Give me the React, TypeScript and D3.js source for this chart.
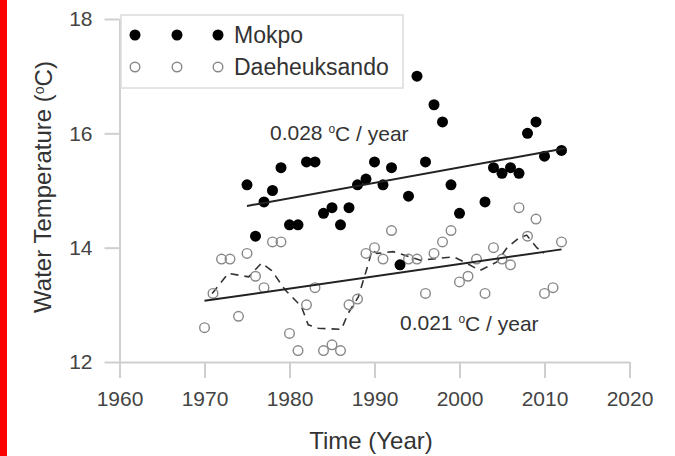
import { useEffect, useRef } from "react";
import * as d3 from "d3";

// Mokpo (filled) annual means
const mokpoYears = [
  1975, 1976, 1977, 1978, 1979, 1980, 1981, 1982, 1983, 1984, 1985, 1986, 1987, 1988, 1989, 1990,
  1991, 1992, 1993, 1994, 1995, 1996, 1997, 1998, 1999, 2000, 2003, 2004, 2005, 2006, 2007, 2008,
  2009, 2010, 2012,
];
const mokpoTemps = [
  15.1, 14.2, 14.8, 15.0, 15.4, 14.4, 14.4, 15.5, 15.5, 14.6, 14.7, 14.4, 14.7, 15.1, 15.2, 15.5,
  15.1, 15.4, 13.7, 14.9, 17.0, 15.5, 16.5, 16.2, 15.1, 14.6, 14.8, 15.4, 15.3, 15.4, 15.3, 16.0,
  16.2, 15.6, 15.7,
];

// Daeheuksando (open) annual means
const daeYears = [
  1970, 1971, 1972, 1973, 1974, 1975, 1976, 1977, 1978, 1979, 1980, 1981, 1982, 1983, 1984, 1985,
  1986, 1987, 1988, 1989, 1990, 1991, 1992, 1994, 1995, 1996, 1997, 1998, 1999, 2000, 2001, 2002,
  2003, 2004, 2005, 2006, 2007, 2008, 2009, 2010, 2011, 2012,
];
const daeTemps = [
  12.6, 13.2, 13.8, 13.8, 12.8, 13.9, 13.5, 13.3, 14.1, 14.1, 12.5, 12.2, 13.0, 13.3, 12.2, 12.3,
  12.2, 13.0, 13.1, 13.9, 14.0, 13.8, 14.3, 13.8, 13.8, 13.2, 13.9, 14.1, 14.3, 13.4, 13.5, 13.8,
  13.2, 14.0, 13.8, 13.7, 14.7, 14.2, 14.5, 13.2, 13.3, 14.1,
];

// smoothed Daeheuksando curve (dashed)
const smoothYears = [
  1970.9, 1972.8, 1975.2, 1976.7, 1977.9, 1979.5, 1981.4, 1982.2, 1983.4, 1986.1, 1986.9, 1988.1,
  1989.3, 1989.7, 1990.3, 1992.2, 1995.4, 1999.3, 2000.8, 2002.4, 2004.4, 2005.6, 2006.9, 2007.9,
  2009.1, 2009.9,
];
const smoothTemps = [
  13.2, 13.55, 13.49, 13.73, 13.6, 13.26, 12.97, 12.65, 12.59, 12.57, 12.85, 13.14, 13.73, 13.96,
  13.9, 13.93, 13.78, 13.84, 13.73, 13.6, 13.75, 14.0, 14.16, 14.22, 14.0, 13.9,
];

// linear trend end points
const mokpoTrend: [number, number][] = [
  [1975, 14.73],
  [2012.5, 15.74],
];
const daeTrend: [number, number][] = [
  [1970, 13.07],
  [2012, 13.97],
];

const xTicks = [1960, 1970, 1980, 1990, 2000, 2010, 2020];
const yTicks = [12, 14, 16, 18];
const seriesNames = ["Mokpo", "Daeheuksando"];

const W = 675;
const H = 456;
const FONT = "'Liberation Sans', Arial, Helvetica, sans-serif";

export default function App() {
  const gx = useRef<SVGGElement | null>(null);
  const gy = useRef<SVGGElement | null>(null);

  const x = d3.scaleLinear().domain([1960, 2020]).range([119.5, 629.5]);
  const y = d3.scaleLinear().domain([12, 18]).range([362, 19]);

  useEffect(() => {
    if (gx.current) {
      const g = d3.select(gx.current);
      g.call(d3.axisBottom(x).tickValues(xTicks).tickFormat(d3.format("d")).tickSize(16).tickSizeOuter(0).tickPadding(13));
      g.select(".domain").attr("stroke", "#cfcfcf").attr("stroke-width", 2);
      g.selectAll(".tick line").attr("stroke", "#cfcfcf").attr("stroke-width", 2);
      g.selectAll(".tick text").attr("fill", "#444").attr("font-size", 21).attr("font-family", FONT);
    }
    if (gy.current) {
      const g = d3.select(gy.current);
      g.call(d3.axisLeft(y).tickValues(yTicks).tickFormat(d3.format("d")).tickSize(15).tickSizeOuter(0).tickPadding(12));
      g.select(".domain").attr("stroke", "#cfcfcf").attr("stroke-width", 2);
      g.selectAll(".tick line").attr("stroke", "#cfcfcf").attr("stroke-width", 2);
      g.selectAll(".tick text").attr("fill", "#444").attr("font-size", 21).attr("font-family", FONT);
    }
  }, [x, y]);

  const line = d3
    .line<[number, number]>()
    .x((d) => x(d[0]))
    .y((d) => y(d[1]));

  const smooth = smoothYears.map((yr, i) => [yr, smoothTemps[i]] as [number, number]);

  const legendX = [135, 177, 218];

  return (
    <svg
      width={W}
      height={H}
      style={{ position: "absolute", left: 0, top: 0, background: "#fff" }}
      fontFamily={FONT}
    >
      <rect x={0} y={0} width={W} height={H} fill="#fff" />
      <rect x={0} y={0} width={7} height={H} fill="#ff0000" />

      <g ref={gx} transform={`translate(0,${y(12)})`} />
      <g ref={gy} transform={`translate(${x(1960)},0)`} />

      {/* legend */}
      <rect x={121} y={15} width={282} height={73} fill="#fff" stroke="#dcdcdc" strokeWidth={1.5} />
      {legendX.map((lx) => (
        <circle key={`lm${lx}`} cx={lx} cy={35} r={5.5} fill="#000" />
      ))}
      {legendX.map((lx) => (
        <circle key={`ld${lx}`} cx={lx} cy={67} r={4.8} fill="#fff" stroke="#888" strokeWidth={1.4} />
      ))}
      <text x={234} y={35} dy="0.35em" fontSize={23} fill="#333">
        {seriesNames[0]}
      </text>
      <text x={234} y={67} dy="0.35em" fontSize={23} fill="#333">
        {seriesNames[1]}
      </text>

      {/* dashed smooth */}
      <path d={line(smooth) ?? ""} fill="none" stroke="#333" strokeWidth={1.6} strokeDasharray="8,6" />

      {/* Daeheuksando points */}
      {daeYears.map((yr, i) => (
        <circle key={`d${yr}`} cx={x(yr)} cy={y(daeTemps[i])} r={4.8} fill="none" stroke="#888" strokeWidth={1.4} />
      ))}

      {/* Mokpo points */}
      {mokpoYears.map((yr, i) => (
        <circle key={`m${yr}`} cx={x(yr)} cy={y(mokpoTemps[i])} r={5.5} fill="#000" />
      ))}

      {/* trend lines */}
      <path d={line(mokpoTrend) ?? ""} fill="none" stroke="#222" strokeWidth={2} />
      <path d={line(daeTrend) ?? ""} fill="none" stroke="#222" strokeWidth={2} />

      {/* annotations */}
      <text x={270} y={133} dy="0.35em" fontSize={21} fill="#333">
        0.028 <tspan fontSize={12} dy="-0.6em">o</tspan>
        <tspan dy="0.35em">C / year</tspan>
      </text>
      <text x={400} y={323} dy="0.35em" fontSize={21} fill="#333">
        0.021 <tspan fontSize={12} dy="-0.6em">o</tspan>
        <tspan dy="0.35em">C / year</tspan>
      </text>

      {/* axis titles */}
      <text x={371} y={441} dy="0.35em" textAnchor="middle" fontSize={24} fill="#333">
        Time (Year)
      </text>
      <text
        transform={`translate(43,187) rotate(-90)`}
        dy="0.35em"
        textAnchor="middle"
        fontSize={24}
        fill="#333"
      >
        Water Temperature (<tspan fontSize={14} dy="-0.55em">o</tspan>
        <tspan dy="0.35em">C)</tspan>
      </text>
    </svg>
  );
}
